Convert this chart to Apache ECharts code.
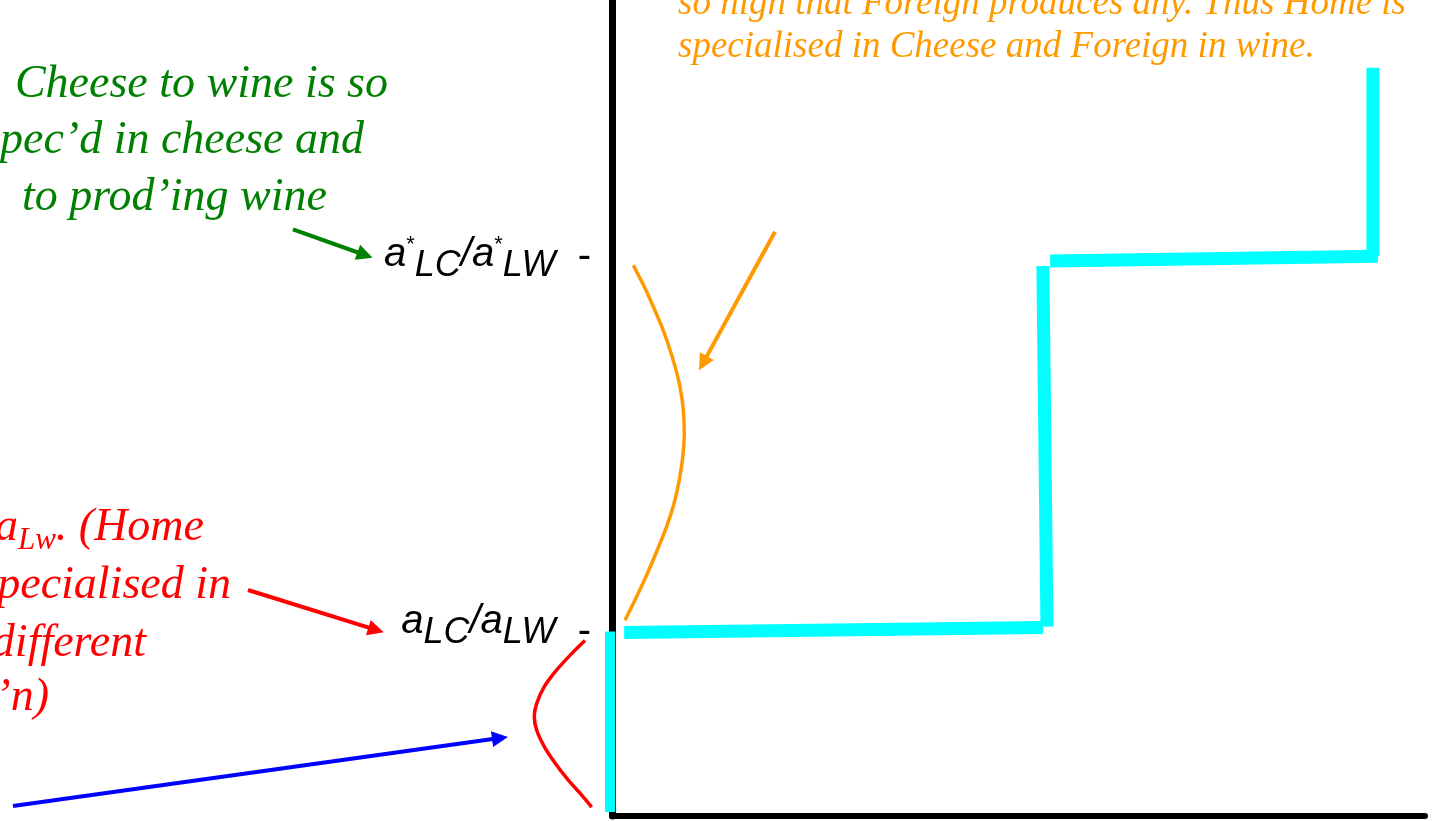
<!DOCTYPE html>
<html lang="en">
<head>
<meta charset="UTF-8">
<title>Relative supply</title>
<style>html,body{margin:0;padding:0;background:#fff}</style>
</head>
<body>
<div id="container" style="width:1443px;height:821px"></div>
<script src="https://cdn.jsdelivr.net/npm/echarts@6/dist/echarts.min.js"></script>
<script>
// price axis ticks: aLC/aLW and aLC*/aLW*
var tickValues = [22.7, 68.6];
var tickLabels = [
    '{a|a}{s|LC}{a|/a}{s|LW}{d|  -}',
    '{b|a}{t|*}{u|LC}{b|/a}{t|*}{u|LW}{d|  -}'
];

// relative supply curve, drawn as separate thick pieces
var supplyPieces = [
    [[-0.4, 0.5], [-0.4, 22.6]],
    [[1.5, 22.5], [53.0, 23.1]],
    [[53.5, 23.2], [53.0, 67.4]],
    [[53.9, 68.0], [94.2, 68.6]],
    [[93.6, 68.6], [93.6, 91.7]]
];

// bracket curves (same units as the chart axes)
var orangeCurve = [[2.62, 67.5], [4.15, 64.5], [5.08, 62.4], [6.11, 60.0], [7.01, 57.5],
    [7.75, 55.1], [8.36, 52.6], [8.77, 49.8], [8.89, 46.9], [8.7, 44.0], [8.28, 41.2],
    [7.63, 38.3], [6.73, 35.5], [5.57, 32.6], [4.34, 29.7], [3.04, 26.9], [1.6, 24.0]];
var redCurve = [[-3.32, 21.5], [-4.96, 19.9], [-6.8, 17.9], [-8.36, 15.8], [-9.26, 13.8],
    [-9.56, 12.2], [-9.26, 10.5], [-8.33, 8.5], [-7.01, 6.5], [-5.38, 4.4], [-3.94, 2.8],
    [-2.5, 1.1]];

// arrows: [from, to]
var greenArrow = [[-39.24, 71.9], [-30.38, 68.75]];
var redArrow = [[-44.77, 27.7], [-29.03, 22.8]];
var blueArrow = [[-73.68, 1.23], [-13.78, 9.56]];
var orangeArrow = [[20.05, 71.6], [11.19, 55.5]];

var pxX = 813 / 100, pxY = 816 / 100;

var serif = '"Liberation Serif", "Times New Roman", serif';
function note(str, x, y, color, size, align) {
    return {
        type: 'text', x: x, y: y, silent: true,
        style: {
            text: str, fill: color,
            font: 'italic ' + size + 'px ' + serif,
            align: align, textAlign: align,
            verticalAlign: 'middle', textVerticalAlign: 'middle'
        }
    };
}

var series = [];
supplyPieces.forEach(function (p) {
    series.push({
        type: 'line', xAxisIndex: 0, yAxisIndex: 0, data: p,
        showSymbol: false, clip: false, silent: true, z: 3,
        lineStyle: {color: '#00ffff', width: 13, cap: 'butt'}
    });
});
series.push({
    type: 'line', xAxisIndex: 1, yAxisIndex: 1, data: orangeCurve, smooth: 0.3,
    showSymbol: false, silent: true, lineStyle: {color: '#ff9900', width: 3.5}
});
series.push({
    type: 'line', xAxisIndex: 1, yAxisIndex: 1, data: redCurve, smooth: 0.3,
    showSymbol: false, silent: true, lineStyle: {color: '#ff0000', width: 3.5}
});
[[greenArrow, '#008000'], [redArrow, '#ff0000'], [blueArrow, '#0000ff'], [orangeArrow, '#ff9900']]
    .forEach(function (a) {
        series.push({
            type: 'lines', coordinateSystem: 'cartesian2d', xAxisIndex: 1, yAxisIndex: 1,
            silent: true, symbol: ['none', 'triangle'], symbolSize: [13, 16],
            lineStyle: {color: a[1], width: 4, opacity: 1, curveness: 0},
            data: [{coords: a[0]}]
        });
    });

var sans = '"Liberation Sans", Arial, sans-serif';
function tok(size, pad, italic) {
    return {
        fontFamily: sans, fontStyle: italic ? 'italic' : 'normal', fontSize: size, color: '#000',
        lineHeight: 64, verticalAlign: 'top', padding: [pad, 0, 0, 0]
    };
}
var option = {
    animation: false,
    backgroundColor: '#fff',
    grid: [
        {left: 612, right: 18, top: 0, bottom: 5},
        {left: 0, right: 0, top: 0, bottom: 0}
    ],
    xAxis: [
        {
            type: 'value', gridIndex: 0, min: 0, max: 100,
            axisLine: {lineStyle: {color: '#000', width: 6}},
            axisTick: {show: false}, axisLabel: {show: false}, splitLine: {show: false}
        },
        {
            type: 'value', gridIndex: 1, show: false,
            min: -612 / pxX, max: 100 + 18 / pxX
        }
    ],
    yAxis: [
        {
            type: 'value', gridIndex: 0, min: 0, max: 100,
            axisLine: {lineStyle: {color: '#000', width: 7}},
            axisTick: {show: false}, splitLine: {show: false},
            axisLabel: {
                show: true, margin: 21, customValues: tickValues,
                formatter: function (v) {
                    for (var i = 0; i < tickValues.length; i++) {
                        if (Math.abs(tickValues[i] - v) < 0.01) return tickLabels[i];
                    }
                    return '';
                },
                rich: {
                    a: tok(40, 3, true),
                    s: tok(36, 16, true),
                    b: tok(40, 11, true),
                    u: tok(36, 24, true),
                    t: tok(22, 10, false),
                    d: tok(40, 13, false)
                }
            }
        },
        {
            type: 'value', gridIndex: 1, show: false,
            min: -5 / pxY, max: 100
        }
    ],
    graphic: [
        note('Cheese to wine is so', 388, 85, '#008000', 46, 'right'),
        note('spec’d in cheese and', 364, 141, '#008000', 46, 'right'),
        note('to prod’ing wine', 327, 198, '#008000', 46, 'right'),
        {
            type: 'text', x: 204, y: 528, silent: true,
            style: {
                text: '{m|a}{s|Lw}{m|. (Home}',
                align: 'right', textAlign: 'right',
                verticalAlign: 'middle', textVerticalAlign: 'middle',
                rich: {
                    m: {font: 'italic 46px ' + serif, fill: '#ff0000',
                        lineHeight: 46, verticalAlign: 'top'},
                    s: {font: 'italic 31px ' + serif, fill: '#ff0000',
                        lineHeight: 31, verticalAlign: 'top', padding: [20, 0, 0, 0]}
                }
            }
        },
        note('specialised in', 231, 586, '#ff0000', 46, 'right'),
        note('different', 146, 644, '#ff0000', 46, 'right'),
        note('’n)', 49, 698, '#ff0000', 46, 'right'),
        note('so high that Foreign produces any. Thus Home is', 678, 4, '#ff9900', 37, 'left'),
        note('specialised in Cheese and Foreign in wine.', 678, 47, '#ff9900', 37, 'left')
    ],
    series: series
};

var myChart = echarts.init(document.getElementById('container'));
myChart.setOption(option);
</script>
</body>
</html>
